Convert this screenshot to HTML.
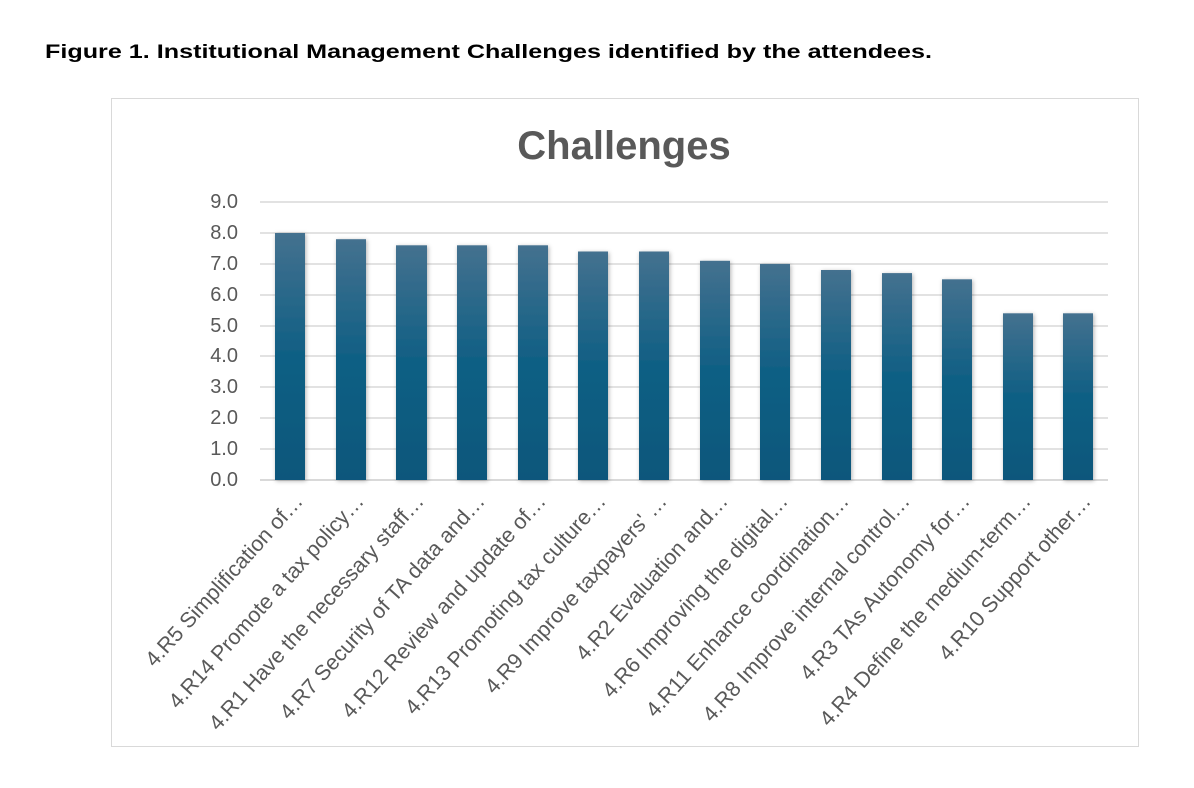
<!DOCTYPE html>
<html><head><meta charset="utf-8"><style>
html,body{margin:0;padding:0;background:#fff;}
svg{display:block;font-family:"Liberation Sans",sans-serif;}
</style></head><body>
<svg width="1194" height="788" viewBox="0 0 1194 788" xmlns="http://www.w3.org/2000/svg">
<defs>
<linearGradient id="g" x1="0" y1="0" x2="0" y2="1">
<stop offset="0" stop-color="#44718f"/>
<stop offset="0.5" stop-color="#0f5f84"/>
<stop offset="1" stop-color="#0a577b"/>
</linearGradient>
<filter id="s" x="-30%" y="-10%" width="160%" height="120%"><feDropShadow dx="1" dy="1" stdDeviation="2" flood-color="#000" flood-opacity="0.3"/></filter>
</defs>
<text x="45" y="58" font-size="19" font-weight="bold" fill="#000" textLength="887" lengthAdjust="spacingAndGlyphs">Figure 1. Institutional Management Challenges identified by the attendees.</text>
<rect x="111.5" y="98.5" width="1027" height="648" fill="#fff" stroke="#d9d9d9"/>
<text x="624" y="159" font-size="40" font-weight="bold" fill="#595959" text-anchor="middle">Challenges</text>
<g stroke="#d9d9d9" stroke-width="1.5">
<line x1="260" x2="1108" y1="202" y2="202"/><line x1="260" x2="1108" y1="233" y2="233"/><line x1="260" x2="1108" y1="264" y2="264"/><line x1="260" x2="1108" y1="295" y2="295"/><line x1="260" x2="1108" y1="326" y2="326"/><line x1="260" x2="1108" y1="356" y2="356"/><line x1="260" x2="1108" y1="387" y2="387"/><line x1="260" x2="1108" y1="418" y2="418"/><line x1="260" x2="1108" y1="449" y2="449"/><line x1="260" x2="1108" y1="480" y2="480" stroke-width="2"/>
</g>
<g font-size="20" fill="#595959" text-anchor="end">
<text x="238" y="208">9.0</text><text x="238" y="239">8.0</text><text x="238" y="270">7.0</text><text x="238" y="301">6.0</text><text x="238" y="332">5.0</text><text x="238" y="362">4.0</text><text x="238" y="393">3.0</text><text x="238" y="424">2.0</text><text x="238" y="455">1.0</text><text x="238" y="486">0.0</text>
</g>
<g fill="url(#g)" filter="url(#s)">
<rect x="275" y="233.0" width="30" height="247.0"/>
<rect x="336" y="239.2" width="30" height="240.8"/>
<rect x="396" y="245.3" width="31" height="234.7"/>
<rect x="457" y="245.3" width="30" height="234.7"/>
<rect x="518" y="245.3" width="30" height="234.7"/>
<rect x="578" y="251.5" width="30" height="228.5"/>
<rect x="639" y="251.5" width="30" height="228.5"/>
<rect x="700" y="260.8" width="30" height="219.2"/>
<rect x="760" y="263.9" width="30" height="216.1"/>
<rect x="821" y="270.0" width="30" height="210.0"/>
<rect x="882" y="273.1" width="30" height="206.9"/>
<rect x="942" y="279.3" width="30" height="200.7"/>
<rect x="1003" y="313.3" width="30" height="166.7"/>
<rect x="1063" y="313.3" width="30" height="166.7"/>
</g>
<g font-size="21.5" fill="#595959" text-anchor="end">
<text transform="translate(304,502) rotate(-48)">4.R5 Simplification of…</text>
<text transform="translate(365,502) rotate(-48)">4.R14 Promote a tax policy…</text>
<text transform="translate(425,502) rotate(-48)">4.R1 Have the necessary staff…</text>
<text transform="translate(486,502) rotate(-48)">4.R7 Security of TA data and…</text>
<text transform="translate(547,502) rotate(-48)">4.R12 Review and update of…</text>
<text transform="translate(607,502) rotate(-48)">4.R13 Promoting tax culture…</text>
<text transform="translate(668,502) rotate(-48)">4.R9 Improve taxpayers' …</text>
<text transform="translate(729,502) rotate(-48)">4.R2 Evaluation and…</text>
<text transform="translate(789,502) rotate(-48)">4.R6 Improving the digital…</text>
<text transform="translate(850,502) rotate(-48)">4.R11 Enhance coordination…</text>
<text transform="translate(911,502) rotate(-48)">4.R8 Improve internal control…</text>
<text transform="translate(971,502) rotate(-48)">4.R3 TAs Autonomy for…</text>
<text transform="translate(1032,502) rotate(-48)">4.R4 Define the medium-term…</text>
<text transform="translate(1092,502) rotate(-48)">4.R10 Support other…</text>
</g>
</svg>
</body></html>
